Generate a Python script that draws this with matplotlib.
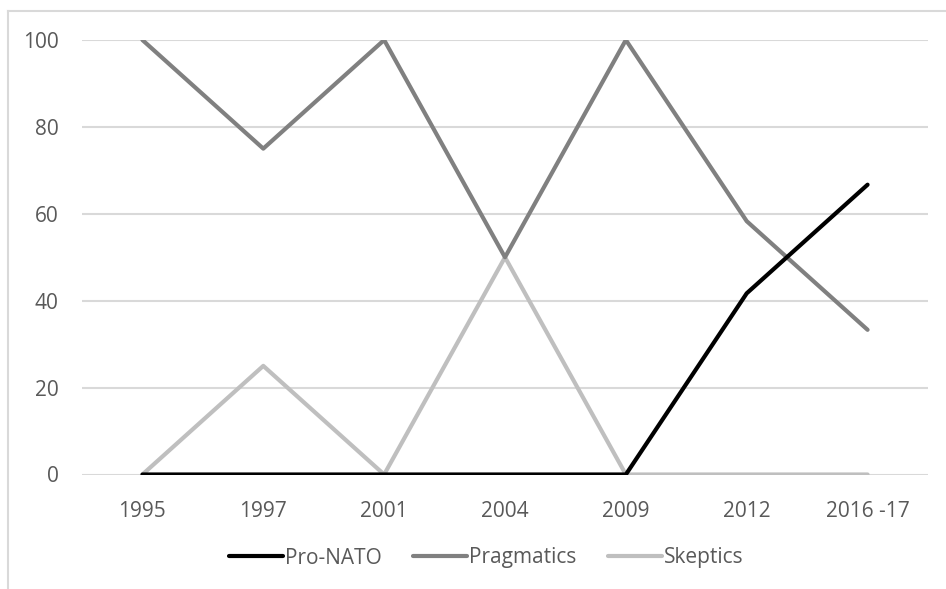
import matplotlib
matplotlib.use("Agg")
import matplotlib.pyplot as plt
from matplotlib.lines import Line2D

years = ["1995", "1997", "2001", "2004", "2009", "2012", "2016 -17"]
pro_nato = [0, 0, 0, 0, 0, 41.7, 66.7]
pragmatics = [100, 75, 100, 50, 100, 58.3, 33.3]
skeptics = [0, 25, 0, 50, 0, 0, 0]

plt.rcParams["font.family"] = ["Open Sans", "DejaVu Sans"]
text_color = "#595959"
grid_color = "#d9d9d9"

W, H = 946, 589
fig = plt.figure(figsize=(W / 100, H / 100), dpi=100)

# chart frame (runs off the right and bottom edges)
fx, fy = 7.5 / W, 1 - 11 / H
fig.add_artist(Line2D([fx, fx], [-0.01, fy], transform=fig.transFigure,
                      color=grid_color, lw=1.5))
fig.add_artist(Line2D([fx, 1.01], [fy, fy], transform=fig.transFigure,
                      color=grid_color, lw=1.5))

left, right = 82 / W, 928 / W
top, bottom = 1 - 40 / H, 1 - 474.5 / H
ax = fig.add_axes([left, bottom, right - left, top - bottom])

x = list(range(len(years)))
ax.plot(x, skeptics, color="#bfbfbf", lw=3, solid_capstyle="round",
        solid_joinstyle="round", label="Skeptics", zorder=3)
ax.plot(x, pragmatics, color="#808080", lw=3, solid_capstyle="round",
        solid_joinstyle="round", label="Pragmatics", zorder=4)
ax.plot(x, pro_nato, color="#000000", lw=3, solid_capstyle="round",
        solid_joinstyle="round", label="Pro-NATO", zorder=5)

ax.set_xlim(-0.5, len(years) - 0.5)
ax.set_ylim(0, 100)
ax.set_yticks([0, 20, 40, 60, 80, 100])
ax.set_xticks(x)
ax.set_xticklabels(years)
ax.yaxis.grid(True, color=grid_color, lw=1.5)
ax.set_axisbelow(True)
for s in ax.spines.values():
    s.set_visible(False)
ax.tick_params(axis="both", length=0, labelsize=15, labelcolor=text_color)
ax.tick_params(axis="y", pad=17)
ax.tick_params(axis="x", pad=19)
ax.patch.set_alpha(0)

handles, labels = ax.get_legend_handles_labels()
order = [2, 1, 0]
leg = fig.legend([handles[i] for i in order], [labels[i] for i in order],
                 loc="center", bbox_to_anchor=(486 / W, 1 - 558 / H), ncol=3,
                 frameon=False, fontsize=15, handlelength=2.6,
                 handletextpad=0.1, columnspacing=1.5)
for t in leg.get_texts():
    t.set_color(text_color)

fig.savefig("out.png", dpi=100)
